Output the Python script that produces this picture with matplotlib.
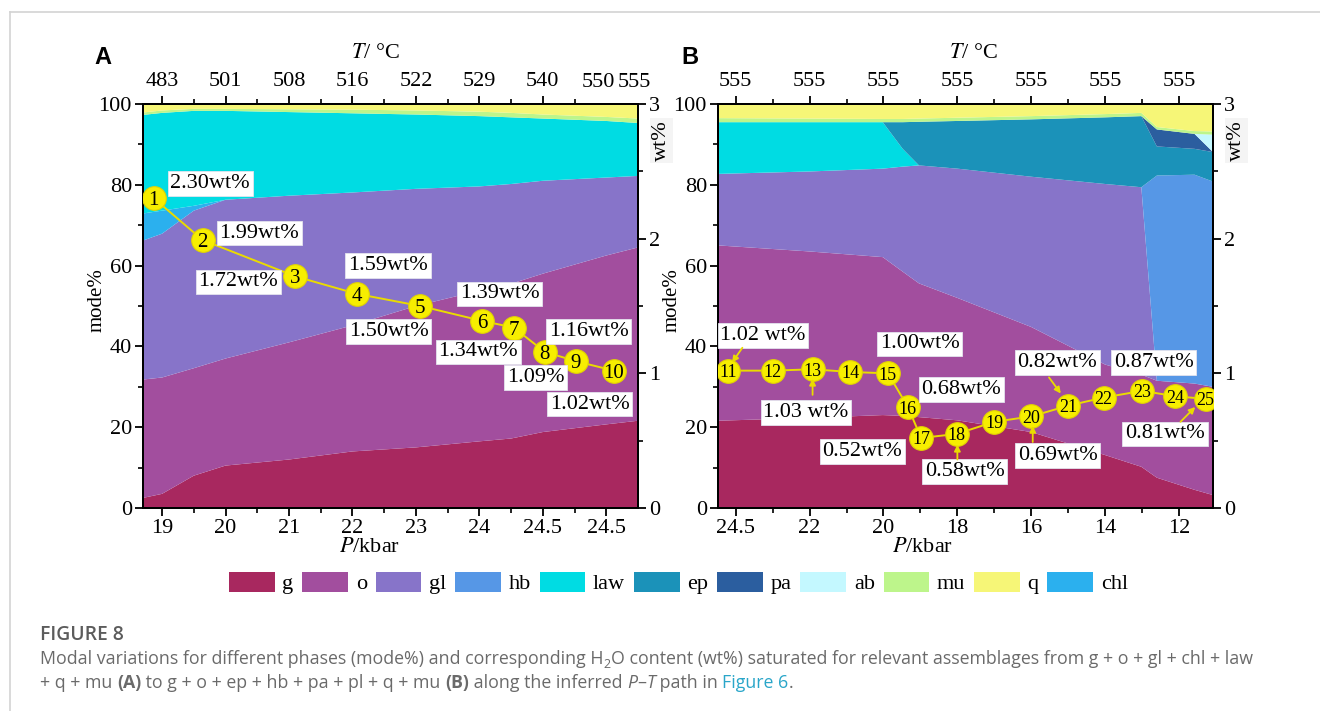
import numpy as np
import matplotlib
matplotlib.use('Agg')
import matplotlib.pyplot as plt
from matplotlib.patches import Patch
from matplotlib.lines import Line2D
from matplotlib.ticker import FixedLocator

plt.rcParams['font.family'] = ['Liberation Serif', 'DejaVu Serif']
plt.rcParams['mathtext.fontset'] = 'stix'

#=============== data: panel A (g + o + gl + chl + law + q + mu) ===============
# x = position along the P axis (index of the tick labels below)
p_labels_a = ['19', '20', '21', '22', '23', '24', '24.5', '24.5']
t_labels_a = ['483', '501', '508', '516', '522', '529', '540']
t_extra_a = ['550', '555']
x_a = [-0.3, 0, 0.5, 1, 2, 3, 4, 5, 5.5, 6, 7, 7.5]
g_a = [2.5, 3.5, 8.0, 10.5, 12.0, 14.0, 15.0, 16.5, 17.2, 18.8, 20.7, 21.6]
o_a = [29.3, 28.8, 26.6, 26.5, 29.0, 31.2, 35.0, 37.3, 38.3, 39.2, 41.8, 42.9]
gl_a = [34.4, 35.6, 39.0, 39.3, 36.3, 32.9, 29.0, 25.8, 24.7, 23.0, 19.3, 17.7]
chl_a = [6.7, 5.7, 1.2, 0, 0, 0, 0, 0, 0, 0, 0, 0]
law_a = [24.4, 24.2, 23.5, 22.0, 20.7, 19.6, 18.4, 17.4, 16.5, 15.4, 14.0, 13.1]
mu_a = [0.6, 0.6, 0.5, 0.5, 0.7, 0.9, 1.0, 1.1, 1.1, 1.0, 1.0, 1.1]
q_a = [2.1, 1.6, 1.2, 1.2, 1.3, 1.4, 1.6, 1.9, 2.2, 2.6, 3.2, 3.6]

pt_x_a = [-0.13, 0.64, 2.1, 3.07, 4.07, 5.04, 5.54, 6.03, 6.52, 7.12]
pt_wt_a = [2.30, 1.99, 1.72, 1.59, 1.50, 1.39, 1.34, 1.16, 1.09, 1.02]
pt_id_a = list(range(1, 11))
lab_a = ['2.30wt%', '1.99wt%', '1.72wt%', '1.59wt%', '1.50wt%',
         '1.39wt%', '1.34wt%', '1.16wt%', '1.09%', '1.02wt%']

#=============== data: panel B (g + o + ep + hb + pa + pl + q + mu) ============
p_labels_b = ['24.5', '22', '20', '18', '16', '14', '12']
t_labels_b = ['555'] * 7
x_b = [-0.24, 1.0, 1.99, 2.26, 2.48, 3.0, 4.0, 5.0, 5.49, 5.70, 6.21, 6.46]
g_b = [21.6, 22.3, 23.0, 22.8, 22.5, 21.7, 18.8, 13.1, 10.2, 7.5, 4.5, 3.2]
o_b = [43.4, 41.2, 39.1, 35.7, 33.1, 30.3, 26.0, 22.4, 22.8, 24.0, 26.3, 26.8]
gl_b = [17.7, 19.8, 21.9, 26.0, 29.2, 32.0, 37.2, 44.7, 46.4, 0, 0, 0]
hb_b = [0, 0, 0, 0, 0, 0, 0, 0, 0, 50.8, 51.7, 50.8]
law_b = [12.8, 12.2, 11.5, 4.4, 0, 0, 0, 0, 0, 0, 0, 0]
ep_b = [0, 0, 0, 6.6, 10.8, 11.8, 14.2, 16.5, 17.6, 7.2, 6.4, 7.3]
pa_b = [0, 0, 0, 0, 0, 0, 0, 0, 0, 4.2, 3.7, 0]
ab_b = [0, 0, 0, 0, 0, 0, 0, 0, 0, 0, 0, 4.3]
mu_b = [1.0, 0.9, 0.8, 0.8, 0.8, 0.8, 0.8, 0.8, 0.8, 0.6, 0.7, 0.8]
q_b = [3.5, 3.6, 3.7, 3.7, 3.6, 3.4, 3.0, 2.5, 2.2, 5.7, 6.7, 6.8]

pt_x_b = [-0.1, 0.5, 1.04, 1.55, 2.06, 2.33, 2.51, 2.99, 3.5, 4.0, 4.5, 4.98, 5.5, 5.95, 6.36]
pt_wt_b = [1.02, 1.02, 1.03, 1.01, 1.00, 0.75, 0.52, 0.55, 0.64, 0.68, 0.76, 0.82, 0.87, 0.83, 0.81]
pt_id_b = list(range(11, 26))
lab_b = ['1.02 wt%', '1.03 wt%', '1.00wt%', '0.68wt%', '0.52wt%',
         '0.58wt%', '0.69wt%', '0.82wt%', '0.87wt%', '0.81wt%']

#=============== styles ===============
colors = {'g': '#A8285F', 'o': '#A24E9E', 'gl': '#8774C9', 'hb': '#5697E6',
          'law': '#00DCE3', 'ep': '#1B92B9', 'pa': '#2B5E9F', 'ab': '#C4F8FF',
          'mu': '#BDF58B', 'q': '#F6F677', 'chl': '#2BB0EE'}
legend_order = ['g', 'o', 'gl', 'hb', 'law', 'ep', 'pa', 'ab', 'mu', 'q', 'chl']
YEL = '#F7EE00'
LINE = '#EADB00'

# label placement (x, wt) and optional arrow (start -> end)
lab_pos_a = [(0.76, 2.41), (1.53, 2.04), (1.20, 1.68), (3.56, 1.80), (3.57, 1.31),
             (5.32, 1.59), (4.98, 1.16), (6.72, 1.31), (5.89, 0.97), (6.74, 0.77)]
lab_pos_b = [(0.37, 1.28), (0.95, 0.71), (2.49, 1.22), (3.05, 0.88), (1.71, 0.42),
             (3.10, 0.27), (4.36, 0.39), (4.35, 1.08), (5.66, 1.08), (5.81, 0.55)]
arrows_b = [((0.09, 1.19), (-0.05, 1.08)), ((1.04, 0.84), (1.04, 0.96)), None, None, None,
            ((3.0, 0.36), (3.0, 0.47)), ((4.02, 0.49), (4.02, 0.61)),
            ((4.24, 0.97), (4.40, 0.85)), None, ((6.02, 0.64), (6.22, 0.75))]


def style_axes(ax, ax2, xlim, major, minor, plabels):
	ax.set_xlim(xlim)
	ax.set_ylim(0, 100)
	ax.set_xticks(major, plabels)
	ax.xaxis.set_minor_locator(FixedLocator(minor))
	ax.set_yticks(range(0, 101, 20))
	ax.yaxis.set_minor_locator(FixedLocator(range(10, 100, 20)))
	ax2.set_ylim(0, 3)
	ax2.set_yticks([0, 1, 2, 3])
	ax2.yaxis.set_minor_locator(FixedLocator([0.5, 1.5, 2.5]))
	for a in (ax, ax2):
		a.tick_params(which='major', direction='out', length=6, width=1.3, labelsize=16, pad=2)
		a.tick_params(which='minor', direction='out', length=3.5, width=1.2)
		for s in a.spines.values():
			s.set_linewidth(1.4)


def top_axis(ax, major, minor, tlabels):
	sec = ax.secondary_xaxis('top')
	sec.set_xticks(major, tlabels)
	sec.xaxis.set_minor_locator(FixedLocator(minor))
	sec.tick_params(which='major', direction='out', length=6, width=1.3, labelsize=16, pad=3)
	sec.tick_params(which='minor', direction='out', length=3.5, width=1.2)
	sec.spines['top'].set_linewidth(1.4)
	return sec


def draw_path(ax2, xs, ws, ids, nsize):
	ax2.plot(xs, ws, color=LINE, lw=1.4, zorder=3)
	ax2.plot(xs, ws, 'o', ms=17, mfc=YEL, mec='#E2D400', mew=0.8, zorder=4)
	for x, w, n in zip(xs, ws, ids):
		ax2.text(x, w, str(n), ha='center', va='center_baseline', fontsize=nsize, zorder=5)


def box_label(ax2, pos, s):
	ax2.text(pos[0], pos[1], s, ha='center', va='center', fontsize=16, zorder=6,
	         bbox=dict(boxstyle='square,pad=0.12', fc='white', ec='#E4E4EE', lw=0.6))


fig = plt.figure(figsize=(13.2, 7.11), dpi=100)

#-------------- panel A --------------------------
axA = fig.add_axes([143 / 1320, 1 - 508 / 711, 495 / 1320, 404 / 711])
keys_a = ['g', 'o', 'gl', 'chl', 'law', 'mu', 'q']
axA.stackplot(x_a, g_a, o_a, gl_a, chl_a, law_a, mu_a, q_a,
              colors=[colors[k] for k in keys_a], linewidth=0, antialiased=True)
axA2 = axA.twinx()
style_axes(axA, axA2, (-0.3, 7.5), range(8), np.arange(0.5, 7, 1), p_labels_a)
top_axis(axA, range(7), np.arange(0.5, 7, 1), t_labels_a)
for xx, s in zip([6.87, 7.45], t_extra_a):
	axA.text(xx, 1.052, s, transform=axA.get_xaxis_transform(), ha='center',
	         va='center', fontsize=16)
draw_path(axA2, pt_x_a, pt_wt_a, pt_id_a, 15)
for pos, s in zip(lab_pos_a, lab_a):
	box_label(axA2, pos, s)

#-------------- panel B --------------------------
axB = fig.add_axes([718 / 1320, 1 - 508 / 711, 495 / 1320, 404 / 711])
keys_b = ['g', 'o', 'gl', 'hb', 'law', 'ep', 'pa', 'ab', 'mu', 'q']
axB.stackplot(x_b, g_b, o_b, gl_b, hb_b, law_b, ep_b, pa_b, ab_b, mu_b, q_b,
              colors=[colors[k] for k in keys_b], linewidth=0, antialiased=True)
axB2 = axB.twinx()
style_axes(axB, axB2, (-0.24, 6.46), range(7), np.arange(0.5, 6.5, 1), p_labels_b)
top_axis(axB, range(7), np.arange(0.5, 6.5, 1), t_labels_b)
draw_path(axB2, pt_x_b, pt_wt_b, pt_id_b, 13)
for pos, s, arr in zip(lab_pos_b, lab_b, arrows_b):
	box_label(axB2, pos, s)
	if arr is not None:
		axB2.annotate('', xy=arr[1], xytext=arr[0], zorder=6,
		              arrowprops=dict(arrowstyle='-|>', color=LINE, lw=1.3,
		                              mutation_scale=9, shrinkA=0, shrinkB=0))

#-------------- axis titles --------------------------
for ax, tx, px, letter, lx in [(axA, 0.47, 0.457, 'A', 103), (axB, 0.515, 0.414, 'B', 690)]:
	ax.text(tx, 1.125, r'$T$/ °C', transform=ax.transAxes, ha='center', va='center', fontsize=16)
	ax.text(px, -0.097, r'$P$/kbar', transform=ax.transAxes, ha='center', va='center', fontsize=16)
	ax.text(-0.092, 0.515, 'mode%', transform=ax.transAxes, rotation=90,
	        ha='center', va='center', fontsize=15)
	ax.text(1.048, 0.91, 'wt%', transform=ax.transAxes, rotation=90, ha='center',
	        va='center', fontsize=16,
	        bbox=dict(boxstyle='square,pad=0.1', fc='#F4F4F4', ec='none'), zorder=10)
	fig.text(lx / 1320, 1 - 57 / 711, letter, family='Liberation Sans', fontweight='bold',
	         fontsize=17, ha='center', va='center')

#-------------- legend --------------------------
handles = [Patch(facecolor=colors[k], edgecolor='none') for k in legend_order]
fig.legend(handles, legend_order, loc='center', bbox_to_anchor=(0.514, 0.18), ncol=11,
           frameon=False, fontsize=16, handlelength=2.05, handleheight=1.0,
           handletextpad=0.35, columnspacing=0.4)

#-------------- frame --------------------------
fig.add_artist(Line2D([10 / 1320, 1.0], [1 - 12 / 711] * 2, transform=fig.transFigure,
                      color='#D3D3D3', lw=1.2))
fig.add_artist(Line2D([10 / 1320] * 2, [0, 1 - 12 / 711], transform=fig.transFigure,
                      color='#D3D3D3', lw=1.2))

#-------------- caption --------------------------
CAP = '#6A6A6A'
fig.canvas.draw()
rend = fig.canvas.get_renderer()


def advance(s, style):
	a = fig.text(0, 0, s + '|', **style)
	b = fig.text(0, 0, '|', **style)
	w = a.get_window_extent(rend).width - b.get_window_extent(rend).width
	a.remove()
	b.remove()
	return w / fig.bbox.width


line1 = ('Modal variations for different phases (mode%) and corresponding H2O content (wt%) '
         'saturated for relevant assemblages from g + o + gl + chl + law')
probe_style = dict(family=['Open Sans', 'DejaVu Sans'], fontsize=10)
w10 = advance(line1, probe_style)
cap_size = 10 * (1218 / 1320) / w10


def runs(x, y, parts):
	for s, kw in parts:
		style = dict(family=['Open Sans', 'DejaVu Sans'], fontsize=cap_size, color=CAP, va='baseline')
		dy = 0
		if kw.get('sub'):
			style['fontsize'] = cap_size * 0.7
			dy = -cap_size * 0.25 / 72 * 100 / fig.bbox.height
		for k, v in kw.items():
			if k != 'sub':
				style[k] = v
		fig.text(x, y + dy, s, **style)
		x += advance(s, style)


fig.text(40 / 1320, 1 - 640 / 711, 'FIGURE 8', family=['Open Sans', 'DejaVu Sans'],
         fontweight='semibold', fontsize=cap_size * 1.08, color='#5C5C5C', va='baseline')
runs(40 / 1320, 1 - 664 / 711, [
	('Modal variations for different phases (mode%) and corresponding H', {}),
	('2', {'sub': True}),
	('O content (wt%) saturated for relevant assemblages from g + o + gl + chl + law', {}),
])
runs(40 / 1320, 1 - 688 / 711, [
	('+ q + mu ', {}),
	('(A)', {'fontweight': 'bold'}),
	(' to g + o + ep + hb + pa + pl + q + mu ', {}),
	('(B)', {'fontweight': 'bold'}),
	(' along the inferred ', {}),
	('P', {'style': 'italic'}),
	('–', {}),
	('T', {'style': 'italic'}),
	(' path in ', {}),
	('Figure 6', {'color': '#2AA6C9'}),
	('.', {}),
])

fig.savefig('out.png', dpi=100)
